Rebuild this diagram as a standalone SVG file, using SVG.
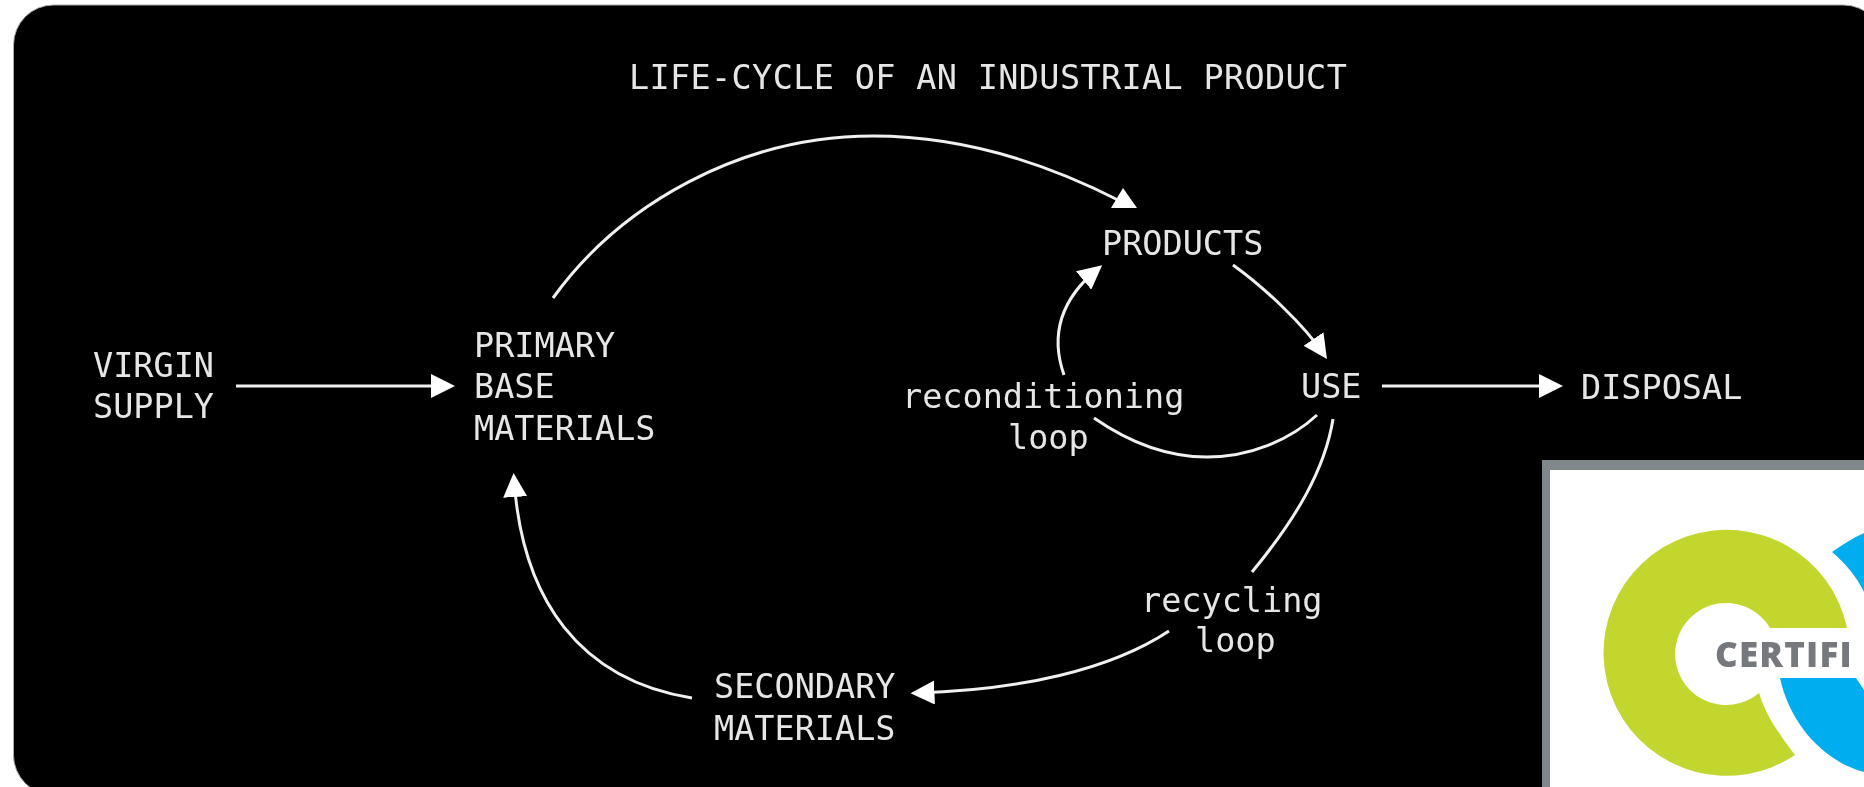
<svg xmlns="http://www.w3.org/2000/svg" width="1864" height="787" viewBox="0 0 1864 787">
<style>
text{font-family:"DejaVu Sans Mono","Liberation Mono",monospace;font-size:33.5px;fill:#e6e6e6;filter:url(#soft)}
.c{fill:none;stroke:#f0f0f0;stroke-width:3;stroke-linecap:butt}
.h{marker-end:url(#head)}
.f{marker-end:url(#head-flat)}
text.logo-text{font-family:"Open Sans","Liberation Sans",sans-serif;font-weight:800;font-size:35px;letter-spacing:1.2px;fill:#75787b}
</style>
<defs>
<filter id="soft" x="-5%" y="-20%" width="110%" height="140%"><feGaussianBlur stdDeviation="0.55"/></filter>
<marker id="head" markerUnits="userSpaceOnUse" viewBox="0 0 24 24" markerWidth="24" markerHeight="24" refX="18" refY="12" orient="auto"><path d="M0,0 L24,12 L0,24Z" fill="#fff"/></marker>
<marker id="head-flat" markerUnits="userSpaceOnUse" viewBox="0 0 35 26" markerWidth="35" markerHeight="26" refX="15" refY="16" orient="0"><path d="M18,3 L32,23 L6,23Z" fill="#fff"/></marker>
</defs>
<rect width="1864" height="787" fill="#fff"/>
<rect x="13.5" y="5" width="1870" height="790" rx="40" fill="#000" stroke="#aaa" stroke-width="1"/>
<g id="connectors">
<path class="c h" d="M236,386 H449"/>
<path class="c f" d="M553,298 C620,205 740,136 873,136 C965,136 1050,165 1120,201"/>
<path class="c h" d="M1233,265 C1265,288 1304,325 1323.6,354"/>
<path class="c h" d="M1064,375 C1050,335 1060,300 1097.5,269"/>
<path class="c" d="M1094,418 C1140,450 1180,457 1207,457 C1250,457 1290,440 1317,415"/>
<path class="c" d="M1333,419 C1325,470 1295,520 1252,572"/>
<path class="c h" d="M1169,631 C1110,670 1020,690 916.5,693"/>
<path class="c h" d="M692,698 C580,680 522,600 514,479"/>
<path class="c h" d="M1382,386 H1557"/>
</g>
<g id="title"><text x="629" y="89" letter-spacing="0.35">LIFE-CYCLE OF AN INDUSTRIAL PRODUCT</text></g>
<g id="virgin-supply"><text x="93" y="377">VIRGIN</text><text x="93" y="418">SUPPLY</text></g>
<g id="primary-base-materials"><text x="474" y="357">PRIMARY</text><text x="474" y="398">BASE</text><text x="474" y="440">MATERIALS</text></g>
<g id="products"><text x="1102" y="255">PRODUCTS</text></g>
<g id="use"><text x="1301" y="398">USE</text></g>
<g id="disposal"><text x="1581" y="399">DISPOSAL</text></g>
<g id="reconditioning-loop"><text x="902" y="408">reconditioning</text><text x="1008" y="449">loop</text></g>
<g id="recycling-loop"><text x="1141" y="612">recycling</text><text x="1195" y="652">loop</text></g>
<g id="secondary-materials"><text x="714" y="698">SECONDARY</text><text x="714" y="740">MATERIALS</text></g>
<g id="logo">
<rect x="1542" y="460" width="330" height="340" fill="#7f878a"/>
<rect x="1550" y="470" width="322" height="330" fill="#fff"/>
<path fill="#c2d62e" d="M1847,628 A123,123 0 1 0 1795,755 C1780,735 1767,718 1759,693 A51,51 0 1 1 1770,628 Z"/>
<path fill="#00aeef" d="M1832,552 C1842,545 1853,538 1864,533 L1864,592 C1857,577 1845,563 1832,552 Z"/>
<path fill="#00aeef" d="M1780,678 L1856,678 L1864,690 L1864,772 C1825,762 1790,725 1780,678 Z"/>
<text class="logo-text" x="1715" y="667">CERTIFI</text>
</g>
</svg>
